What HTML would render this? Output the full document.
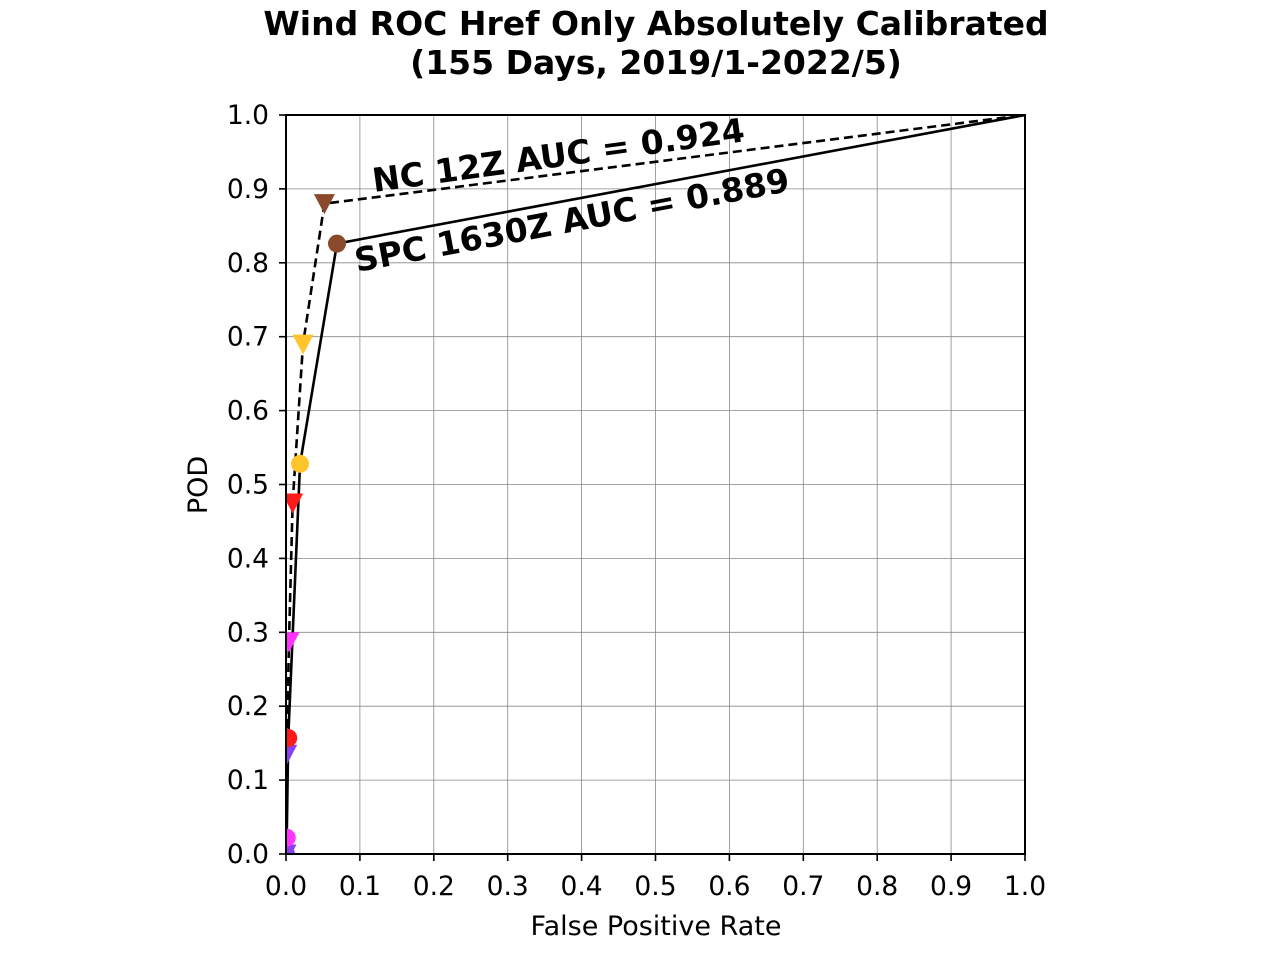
<!DOCTYPE html>
<html><head><meta charset="utf-8"><style>
html,body{margin:0;padding:0;background:#fff}
svg text{font-family:"DejaVu Sans","Liberation Sans",sans-serif}
</style></head><body>
<svg id="chart" width="1280" height="960" viewBox="0 0 1280 960" xmlns="http://www.w3.org/2000/svg">
<defs><clipPath id="clip"><rect x="286" y="115" width="739" height="739"/></clipPath></defs>
<text x="656" y="35" text-anchor="middle" font-size="33" font-weight="bold">Wind ROC Href Only Absolutely Calibrated</text>
<text x="656" y="74" text-anchor="middle" font-size="33" font-weight="bold">(155 Days, 2019/1-2022/5)</text>
<g id="grid"></g>
<g id="ticks"></g>
<g id="series" clip-path="url(#clip)"></g>
<rect x="286" y="115" width="739" height="739" fill="none" stroke="#000" stroke-width="2"/>
<text x="656" y="935" text-anchor="middle" font-size="27">False Positive Rate</text>
<text transform="translate(207,485) rotate(-90)" text-anchor="middle" font-size="27">POD</text>
<text transform="translate(374,192) rotate(-7.8)" font-size="33" font-weight="bold">NC 12Z AUC = 0.924</text>
<text transform="translate(357,272) rotate(-10.6)" font-size="33" font-weight="bold">SPC 1630Z AUC = 0.889</text>
</svg>
<script>
const ticks=[0,0.1,0.2,0.3,0.4,0.5,0.6,0.7,0.8,0.9,1.0];
const tickLabels=["0.0","0.1","0.2","0.3","0.4","0.5","0.6","0.7","0.8","0.9","1.0"];
const spcFpr=[0,0.001,0.003,0.019,0.069,1];
const spcPod=[0,0.022,0.157,0.528,0.826,1];
const ncFpr=[0,0.001,0.004,0.009,0.023,0.052,1];
const ncPod=[0,0.135,0.287,0.475,0.69,0.88,1];
const spcColors=["#8a3ff0","#ff33ff","#ff1a1a","#ffc52a","#8b4a2b"];
const ncColors=["#8a3ff0","#8a3ff0","#ff33ff","#ff1a1a","#ffc52a","#8b4a2b"];
const NS="http://www.w3.org/2000/svg";
const X=v=>286+v*739, Y=v=>854-v*739;
function mk(t,a,p){const e=document.createElementNS(NS,t);for(const k in a)e.setAttribute(k,a[k]);p.appendChild(e);return e;}
const g=document.getElementById('grid'),tk=document.getElementById('ticks'),s=document.getElementById('series');
ticks.forEach((t,i)=>{
 let l=mk('line',{x1:X(t),x2:X(t),y1:115,y2:854,stroke:'#888','stroke-width':0.8},g);
 
 
 l=mk('line',{x1:286,x2:1025,y1:Y(t),y2:Y(t),stroke:'#888','stroke-width':0.8},g);
 
 
 mk('line',{x1:X(t),x2:X(t),y1:854,y2:861,stroke:'#000','stroke-width':1.6},tk);
 mk('line',{x1:279,x2:286,y1:Y(t),y2:Y(t),stroke:'#000','stroke-width':1.6},tk);
 let tx=mk('text',{x:X(t),y:895,'text-anchor':'middle','font-size':26.5},tk);tx.textContent=tickLabels[i];
 
 
 tx=mk('text',{x:269,y:Y(t)+9,'text-anchor':'end','font-size':26.5},tk);tx.textContent=tickLabels[i];
 
 
});
let p=mk('polyline',{points:ncFpr.map((f,i)=>X(f)+','+Y(ncPod[i])).join(' '),fill:'none',stroke:'#000','stroke-width':2.6,'stroke-dasharray':'9,5'},s);


p=mk('polyline',{points:spcFpr.map((f,i)=>X(f)+','+Y(spcPod[i])).join(' '),fill:'none',stroke:'#000','stroke-width':2.6},s);


ncColors.forEach((c,i)=>{const x=X(ncFpr[i]),y=Y(ncPod[i]);
 const m=mk('polygon',{points:`${x-10.5},${y-9.5} ${x+10.5},${y-9.5} ${x},${y+10.5}`,fill:c},s);
 
 });
spcColors.forEach((c,i)=>{
 const m=mk('circle',{cx:X(spcFpr[i]),cy:Y(spcPod[i]),r:9,fill:c},s);
 
 });
</script>
</body></html>
